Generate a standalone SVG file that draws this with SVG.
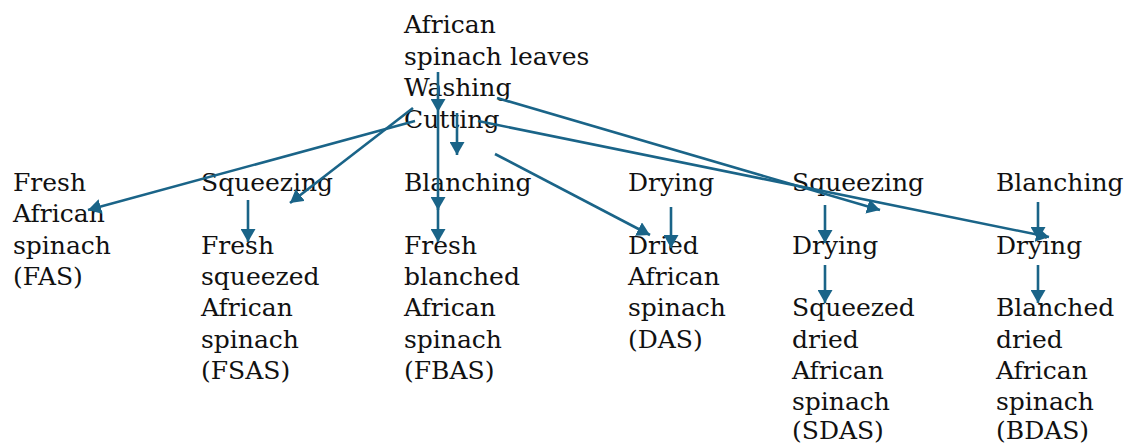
<svg xmlns="http://www.w3.org/2000/svg" width="1125" height="445" viewBox="0 0 1125 445">
<defs>
<style>
text{font-family:"DejaVu Serif","Liberation Serif",serif;font-size:25px;fill:#111}
.c line{stroke:#1a6488;stroke-width:2.6;fill:none;marker-end:url(#ah)}
</style>
<marker id="ah" viewBox="0 0 13 15" refX="13" refY="7.5" markerWidth="13" markerHeight="15" markerUnits="userSpaceOnUse" orient="auto">
<path d="M0,0 L13,7.5 L0,15 Z" fill="#1a6488"/>
</marker>
</defs>
<rect width="1125" height="445" fill="#fff"/>
<g id="n-source"><text x="404" y="33">African</text><text x="404" y="64.5">spinach leaves</text><text x="404" y="96">Washing</text><text x="404" y="127.5">Cutting</text></g>
<g id="n-fas"><text x="13" y="191">Fresh</text><text x="13" y="222.3">African</text><text x="13" y="253.6">spinach</text><text x="13" y="284.9">(FAS)</text></g>
<g id="n-squeeze1"><text x="201" y="191">Squeezing</text></g>
<g id="n-fsas"><text x="201" y="253.6">Fresh</text><text x="201" y="284.9">squeezed</text><text x="201" y="316.2">African</text><text x="201" y="347.5">spinach</text><text x="201" y="378.8">(FSAS)</text></g>
<g id="n-blanch1"><text x="404" y="191">Blanching</text></g>
<g id="n-fbas"><text x="404" y="253.6">Fresh</text><text x="404" y="284.9">blanched</text><text x="404" y="316.2">African</text><text x="404" y="347.5">spinach</text><text x="404" y="378.8">(FBAS)</text></g>
<g id="n-dry1"><text x="628" y="191">Drying</text></g>
<g id="n-das"><text x="628" y="253.6">Dried</text><text x="628" y="284.9">African</text><text x="628" y="316.2">spinach</text><text x="628" y="347.5">(DAS)</text></g>
<g id="n-squeeze2"><text x="792" y="191">Squeezing</text></g>
<g id="n-dry2"><text x="792" y="253.6">Drying</text></g>
<g id="n-sdas"><text x="792" y="316.2">Squeezed</text><text x="792" y="347.5">dried</text><text x="792" y="378.8">African</text><text x="792" y="409.5">spinach</text><text x="792" y="439">(SDAS)</text></g>
<g id="n-blanch2"><text x="996" y="191">Blanching</text></g>
<g id="n-dry3"><text x="996" y="253.6">Drying</text></g>
<g id="n-bdas"><text x="996" y="316.2">Blanched</text><text x="996" y="347.5">dried</text><text x="996" y="378.8">African</text><text x="996" y="409.5">spinach</text><text x="996" y="439">(BDAS)</text></g>
<g id="connectors" class="c">
<line x1="438" y1="72" x2="438" y2="112"/>
<line x1="457" y1="113" x2="457" y2="155"/>
<line x1="438" y1="112" x2="438" y2="210"/>
<line x1="438" y1="205" x2="438" y2="242"/>
<line x1="415" y1="121" x2="88" y2="210"/>
<line x1="413" y1="108" x2="290" y2="203"/>
<line x1="497" y1="98" x2="880" y2="210"/>
<line x1="478" y1="121" x2="1049" y2="237"/>
<line x1="495" y1="154" x2="650" y2="235"/>
<line x1="248" y1="200" x2="248" y2="242"/>
<line x1="671" y1="207" x2="671" y2="248"/>
<line x1="825" y1="205" x2="825" y2="243"/>
<line x1="825" y1="265" x2="825" y2="303"/>
<line x1="1038" y1="202" x2="1038" y2="240"/>
<line x1="1038" y1="265" x2="1038" y2="303"/>
</g>
</svg>
